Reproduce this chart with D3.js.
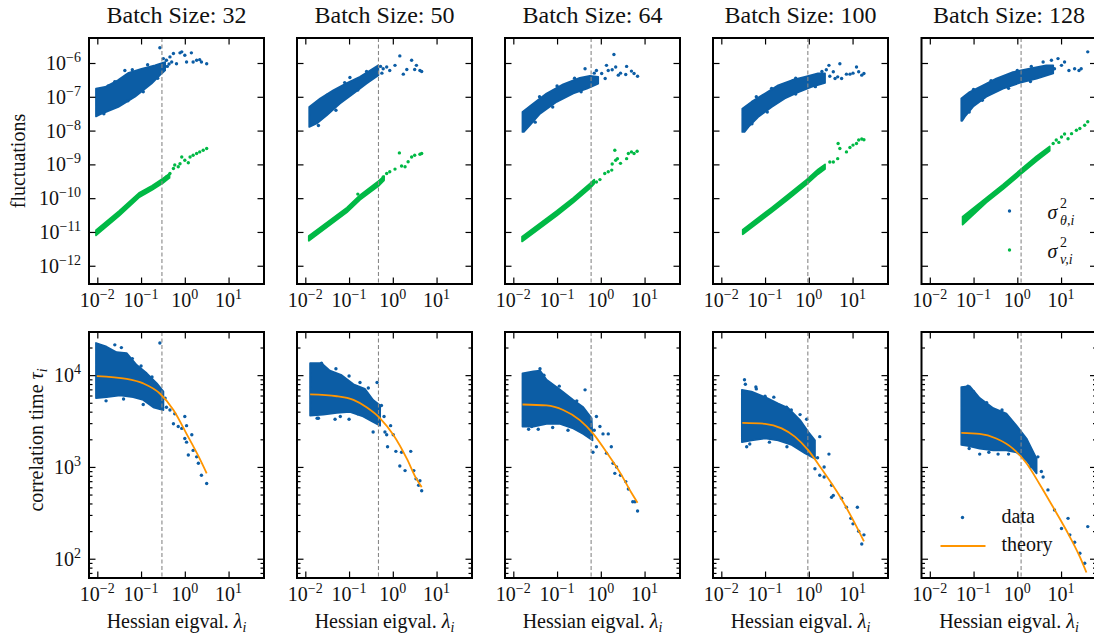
<!DOCTYPE html>
<html><head><meta charset="utf-8">
<script src="https://cdn.jsdelivr.net/npm/d3@7"></script>
<style>body{margin:0;background:#fff}svg{display:block}</style>
</head><body>
<svg id="chart" width="1094" height="642"></svg>
<script>
// ---------------- data (log10 values) ----------------
const batchSizes = [32, 50, 64, 100, 128];
const critLambda = [0.30, 0.47, 0.60, 0.95, 1.22];
const xTickExps = [-2, -1, 0, 1];
const topYTickExps = [-6, -7, -8, -9, -10, -11, -12];
const bottomYTickExps = [2, 3, 4];
const legendTop = ["θ,i", "v,i"];
const legendBottom = ["data", "theory"];

// dense part of the sigma_theta cloud: outline [log10 lambda, log10 sigma^2]
const thetaCloudLog = [
  [[-2.03,-6.76],[-1.82,-6.71],[-1.53,-6.51],[-1.30,-6.30],[-0.99,-6.17],[-0.68,-6.07],[-0.45,-5.97],[-0.45,-6.22],[-0.53,-6.31],[-0.76,-6.61],[-1.14,-7.00],[-1.52,-7.30],[-1.94,-7.52],[-2.03,-7.58]],
  [[-1.91,-7.30],[-1.66,-7.05],[-1.36,-6.81],[-1.05,-6.59],[-0.75,-6.41],[-0.52,-6.22],[-0.33,-6.07],[-0.33,-6.36],[-0.60,-6.61],[-0.90,-6.90],[-1.21,-7.20],[-1.51,-7.55],[-1.74,-7.79],[-1.91,-7.89]],
  [[-1.79,-7.45],[-1.54,-7.20],[-1.24,-6.90],[-0.86,-6.63],[-0.48,-6.44],[-0.25,-6.38],[-0.06,-6.41],[-0.06,-6.61],[-0.32,-6.76],[-0.63,-6.90],[-1.01,-7.15],[-1.39,-7.50],[-1.62,-7.84],[-1.76,-8.04],[-1.79,-8.04]],
  [[-1.52,-7.35],[-1.31,-7.15],[-1.00,-6.90],[-0.70,-6.66],[-0.39,-6.51],[-0.09,-6.41],[0.21,-6.31],[0.37,-6.31],[0.37,-6.59],[0.06,-6.71],[-0.24,-6.86],[-0.55,-7.05],[-0.85,-7.30],[-1.16,-7.60],[-1.38,-7.89],[-1.47,-8.04],[-1.52,-8.04]],
  [[-1.28,-7.05],[-1.09,-6.86],[-0.78,-6.66],[-0.48,-6.46],[-0.10,-6.27],[0.28,-6.17],[0.66,-6.07],[0.82,-6.07],[0.82,-6.31],[0.44,-6.46],[0.05,-6.59],[-0.33,-6.76],[-0.71,-7.00],[-1.01,-7.29],[-1.20,-7.59],[-1.26,-7.71],[-1.28,-7.71]]
];
// sparse sigma_theta points (outliers and edge points)
const thetaPointsLog = [
  [[-0.57,-5.55],[-0.49,-5.87],[-0.42,-5.92],[-0.34,-5.82],[-0.30,-5.97],[-0.26,-5.72],[-0.19,-6.02],[-0.11,-5.70],[-0.07,-5.67],[0.00,-5.77],[0.04,-5.97],[0.15,-5.70],[0.19,-5.97],[0.27,-5.92],[0.34,-5.90],[0.38,-5.97],[0.50,-6.02],[-1.37,-6.22],[-0.40,-6.10],[-0.36,-6.03],
   [-1.60,-6.55],[-1.20,-6.20],[-0.85,-6.05],[-1.75,-6.68],[-1.85,-7.50],[-1.30,-7.12],[-0.95,-6.85],[-0.62,-6.45]],
  [[-0.98,-6.43],[-0.22,-6.17],[-0.14,-6.12],[-0.07,-6.22],[0.05,-6.07],[0.16,-5.79],[0.24,-6.33],[0.32,-6.19],[0.43,-5.92],[0.50,-6.19],[0.54,-6.07],[0.62,-6.22],[0.66,-6.25],[-0.28,-6.10],[-0.25,-6.30],
   [-1.50,-6.95],[-1.10,-6.58],[-0.60,-6.25],[-1.70,-7.85],[-1.30,-7.40],[-0.80,-6.80]],
  [[-0.36,-6.17],[-0.10,-6.22],[0.02,-6.31],[0.13,-6.07],[0.17,-6.22],[0.10,-6.46],[0.30,-5.75],[0.26,-6.20],[0.34,-6.12],[0.40,-6.36],[0.45,-6.30],[0.59,-6.10],[0.57,-6.34],[0.70,-6.24],[0.76,-6.31],[0.84,-6.39],[-0.15,-6.30],
   [-1.40,-7.00],[-1.00,-6.68],[-0.60,-6.45],[-1.50,-7.75],[-1.10,-7.30],[-0.45,-6.85]],
  [[0.46,-6.07],[0.48,-6.39],[0.56,-6.26],[0.60,-6.46],[0.66,-6.41],[0.71,-6.02],[0.75,-6.46],[0.86,-6.33],[0.94,-6.33],[1.01,-6.30],[1.09,-6.12],[1.14,-6.26],[1.21,-6.36],[1.26,-6.31],[0.40,-6.20],[0.30,-6.25],
   [-1.20,-7.00],[-0.85,-6.75],[-0.30,-6.45],[-1.30,-7.80],[-0.95,-7.45],[-0.30,-6.92],[0.15,-6.70]],
  [[0.85,-6.17],[0.93,-5.87],[1.01,-6.07],[1.08,-5.97],[1.18,-6.22],[1.31,-6.17],[1.41,-6.22],[1.46,-6.17],[1.61,-5.67],[0.32,-6.10],[0.59,-5.97],[0.78,-5.92],
   [-1.00,-6.78],[-0.60,-6.52],[0.00,-6.22],[-1.10,-7.45],[-0.80,-7.10],[-0.20,-6.75],[0.30,-6.55]]
];
// dense part of the sigma_v band: outline
const vCloudLog = [
  [[-2.03,-10.95],[-1.50,-10.38],[-1.05,-9.85],[-0.75,-9.63],[-0.50,-9.42],[-0.35,-9.28],[-0.35,-9.40],[-0.50,-9.55],[-0.75,-9.76],[-1.05,-9.98],[-1.50,-10.52],[-2.03,-11.10]],
  [[-1.92,-11.12],[-1.05,-10.28],[-0.75,-9.91],[-0.33,-9.50],[-0.20,-9.35],[-0.20,-9.47],[-0.33,-9.64],[-0.75,-10.05],[-1.05,-10.42],[-1.92,-11.26]],
  [[-1.80,-11.14],[-1.01,-10.38],[-0.63,-9.99],[-0.25,-9.57],[-0.15,-9.45],[-0.15,-9.57],[-0.25,-9.71],[-0.63,-10.13],[-1.01,-10.52],[-1.80,-11.28]],
  [[-1.51,-10.93],[-0.85,-10.28],[-0.47,-9.89],[-0.05,-9.45],[0.21,-9.15],[0.37,-9.00],[0.37,-9.14],[0.21,-9.29],[-0.05,-9.59],[-0.47,-10.03],[-0.85,-10.42],[-1.51,-11.07]],
  [[-1.25,-10.55],[-0.71,-9.99],[-0.33,-9.60],[0.08,-9.15],[0.44,-8.76],[0.74,-8.47],[0.74,-8.60],[0.44,-8.90],[0.08,-9.29],[-0.33,-9.74],[-0.71,-10.13],[-1.25,-10.78]]
];
const vPointsLog = [
  [[-0.42,-9.37],[-0.34,-9.27],[-0.26,-9.12],[-0.23,-9.02],[-0.15,-9.07],[-0.11,-8.98],[-0.07,-8.78],[0.00,-8.88],[0.08,-8.95],[0.12,-8.78],[0.19,-8.73],[0.27,-8.68],[0.34,-8.63],[0.42,-8.58],[0.50,-8.53]],
  [[-0.22,-9.37],[-0.14,-9.27],[-0.07,-9.22],[0.05,-9.14],[0.15,-8.66],[0.20,-9.05],[0.28,-9.07],[0.43,-8.78],[0.50,-8.73],[0.62,-8.70],[0.66,-8.68],[-0.80,-9.88],[0.35,-8.92]],
  [[-0.10,-9.52],[-0.02,-9.45],[0.09,-9.27],[0.17,-9.22],[0.25,-9.17],[0.26,-8.99],[0.34,-8.88],[0.32,-8.58],[0.38,-8.83],[0.45,-8.97],[0.59,-8.83],[0.63,-8.68],[0.70,-8.63],[0.76,-8.68],[0.83,-8.61]],
  [[0.48,-8.93],[0.56,-8.93],[0.66,-8.83],[0.71,-8.53],[0.67,-8.38],[0.86,-8.63],[0.94,-8.50],[1.01,-8.43],[1.09,-8.38],[1.14,-8.28],[1.21,-8.25],[1.26,-8.27]],
  [[0.82,-8.38],[0.89,-8.28],[1.01,-8.19],[1.16,-8.24],[1.24,-8.09],[1.35,-7.99],[1.43,-7.94],[1.54,-7.84],[1.61,-7.74],[0.95,-8.35],[1.08,-8.10]]
];
// dense part of the correlation-time cloud: outline [log10 lambda, log10 tau]
const tauCloudLog = [
  [[-2.03,4.35],[-1.79,4.31],[-1.56,4.25],[-1.33,4.24],[-1.10,4.11],[-0.87,4.02],[-0.64,3.91],[-0.49,3.82],[-0.49,3.62],[-0.72,3.65],[-0.95,3.73],[-1.18,3.76],[-1.48,3.78],[-1.79,3.76],[-2.03,3.75]],
  [[-1.89,4.13],[-1.63,4.13],[-1.44,4.05],[-1.17,4.00],[-0.90,3.90],[-0.64,3.85],[-0.45,3.73],[-0.29,3.67],[-0.29,3.45],[-0.45,3.49],[-0.68,3.55],[-0.98,3.60],[-1.28,3.59],[-1.59,3.57],[-1.89,3.56]],
  [[-1.79,4.02],[-1.54,4.04],[-1.39,4.05],[-1.24,3.95],[-0.93,3.84],[-0.63,3.73],[-0.40,3.65],[-0.21,3.53],[-0.19,3.29],[-0.40,3.36],[-0.63,3.42],[-0.93,3.47],[-1.24,3.47],[-1.54,3.44],[-1.79,3.44]],
  [[-1.53,3.84],[-1.31,3.82],[-1.00,3.76],[-0.70,3.69],[-0.47,3.64],[-0.20,3.51],[-0.01,3.38],[0.14,3.29],[0.14,3.09],[-0.09,3.15],[-0.39,3.24],[-0.70,3.29],[-1.00,3.31],[-1.31,3.29],[-1.53,3.27]],
  [[-1.28,3.87],[-1.09,3.88],[-0.86,3.75],[-0.55,3.64],[-0.25,3.58],[-0.02,3.45],[0.21,3.31],[0.44,3.09],[0.44,2.93],[0.21,3.07],[-0.02,3.16],[-0.25,3.18],[-0.55,3.18],[-0.86,3.20],[-1.13,3.23],[-1.28,3.24]]
];
const tauPointsLog = [
  [[-0.57,4.35],[-0.42,3.65],[-0.34,3.62],[-0.26,3.47],[-0.23,3.58],[-0.15,3.44],[0.00,3.55],[-0.07,3.42],[0.04,3.45],[0.00,3.31],[0.04,3.27],[0.16,3.35],[0.08,3.13],[0.19,3.18],[0.27,3.11],[0.31,3.04],[0.38,2.91],[0.50,2.82],[-0.45,3.75],[-1.60,4.33],[-1.20,4.18],
   [-1.80,3.72],[-1.40,3.74],[-0.95,3.68],[-1.45,4.30],[-1.00,4.10],[-0.75,3.98]],
  [[-1.63,4.13],[-1.73,3.53],[-1.32,3.52],[-1.00,3.52],[-0.56,3.86],[-0.36,3.92],[-0.45,3.38],[-0.26,3.67],[-0.18,3.38],[-0.14,3.35],[0.01,3.35],[-0.12,3.22],[0.07,3.17],[0.20,3.16],[0.41,3.17],[0.16,3.01],[0.28,2.96],[0.48,2.96],[0.53,2.87],[0.62,2.85],[0.59,2.80],[0.66,2.74],[-0.20,3.55],[-0.05,3.45],
   [-1.70,3.53],[-1.20,3.55],[-0.80,3.58],[-1.30,4.07],[-1.00,3.99],[-0.75,3.92]],
  [[-1.39,4.07],[-1.58,3.44],[-1.43,3.41],[-0.36,3.84],[-0.10,3.55],[-0.02,3.44],[0.05,3.36],[0.17,3.36],[-0.10,3.22],[-0.18,3.16],[0.13,3.15],[0.24,3.22],[0.28,3.04],[0.36,3.00],[0.32,2.93],[0.45,2.91],[0.57,2.84],[0.63,2.76],[0.73,2.62],[0.78,2.62],[0.84,2.52],[-0.15,3.40],
   [-1.65,3.41],[-1.10,3.43],[-0.75,3.40],[-1.30,4.00],[-0.95,3.88],[-0.55,3.72]],
  [[-1.47,3.95],[-1.45,3.90],[-1.21,3.87],[-1.00,3.77],[-1.42,3.22],[-0.51,3.65],[-0.20,3.57],[-0.05,3.52],[0.25,3.33],[0.46,3.14],[0.14,2.98],[0.25,2.91],[0.35,2.89],[0.52,2.80],[0.56,2.69],[0.52,2.67],[0.75,2.66],[0.86,2.56],[0.96,2.44],[1.01,2.38],[1.11,2.56],[1.14,2.30],[1.26,2.26],[1.21,2.16],[0.20,3.10],[0.35,3.00],
   [-1.35,3.25],[-0.90,3.27],[-0.50,3.22],[-1.20,3.85],[-0.80,3.76],[-0.40,3.62]],
  [[-1.13,3.88],[-0.86,3.14],[-0.44,3.14],[0.47,3.11],[0.59,2.89],[0.70,2.75],[0.85,2.53],[1.01,2.33],[1.16,2.44],[1.20,2.26],[1.31,2.18],[1.43,2.06],[1.61,2.35],[1.54,1.95],[0.30,3.00],[0.55,2.95],
   [-1.10,3.20],[-0.65,3.16],[-0.20,3.14],[-1.00,3.82],[-0.70,3.70],[-0.35,3.62]]
];
// theory curves
const theoryLog = [
  [[-2.01,3.99],[-1.33,3.96],[-0.95,3.91],[-0.57,3.80],[-0.26,3.62],[0.04,3.36],[0.34,3.09],[0.50,2.93]],
  [[-1.89,3.79],[-1.28,3.77],[-0.90,3.73],[-0.60,3.65],[-0.29,3.53],[0.01,3.35],[0.32,3.09],[0.54,2.87],[0.66,2.78]],
  [[-1.79,3.68],[-1.24,3.67],[-0.86,3.62],[-0.48,3.51],[-0.17,3.36],[0.13,3.16],[0.45,2.93],[0.71,2.71],[0.84,2.61]],
  [[-1.52,3.48],[-1.00,3.47],[-0.62,3.42],[-0.32,3.33],[-0.01,3.18],[0.29,2.98],[0.67,2.71],[0.98,2.45],[1.26,2.19]],
  [[-1.28,3.37],[-0.86,3.36],[-0.48,3.31],[-0.10,3.20],[0.21,3.04],[0.50,2.82],[0.82,2.56],[1.12,2.31],[1.43,2.02],[1.58,1.85]]
];

// ---------------- style / layout ----------------
const BLUE = "#0C5DA5", GREEN = "#00B945", ORANGE = "#FF9500";
const FONT = "'Liberation Serif','DejaVu Serif',serif";
const panelLeft = [89, 297, 505, 713, 921.5];
const PW = 175, PH = 246;
const rowTop = [38, 332];

const svg = d3.select("#chart").style("font-family", FONT);

const x = d3.scaleLog().domain([10 ** -2.19, 10 ** 1.81]).range([0, PW]);
const yTop = d3.scaleLog().domain([10 ** -12.54, 10 ** -5.26]).range([PH, 0]);
const yBot = d3.scaleLog().domain([10 ** 1.79, 10 ** 4.47]).range([PH, 0]);

const minorBot = [];
for (let k = 1; k <= 4; k++) for (let m = 2; m <= 9; m++) {
  const v = m * 10 ** k;
  if (v > yBot.domain()[0] && v < yBot.domain()[1]) minorBot.push(v);
}

function powLabel(sel, exp, size, supSize, raise) {
  sel.append("tspan").text("10").attr("font-size", size);
  sel.append("tspan").text(exp < 0 ? "\u2212" + (-exp) : String(exp))
    .attr("font-size", supSize).attr("dy", -raise);
}

function drawPanel(col, row) {
  const y = row === 0 ? yTop : yBot;
  const g = svg.append("g").attr("transform", `translate(${panelLeft[col]},${rowTop[row]})`);
  const cid = `clip${row}${col}`;
  g.append("clipPath").attr("id", cid).append("rect").attr("width", PW).attr("height", PH);
  const body = g.append("g").attr("clip-path", `url(#${cid})`);
  const pt = d => [x(10 ** d[0]), y(10 ** d[1])];
  const poly = arr => "M" + arr.map(pt).map(p => p.join(",")).join("L") + "Z";

  function cloud(outline, points, color) {
    body.append("path").attr("d", poly(outline)).attr("fill", color)
      .attr("stroke", color).attr("stroke-width", 1.8).attr("stroke-linejoin", "round");
    body.selectAll(null).data(points).enter().append("circle")
      .attr("cx", d => pt(d)[0]).attr("cy", d => pt(d)[1]).attr("r", 1.7).attr("fill", color);
  }

  if (row === 0) {
    cloud(thetaCloudLog[col], thetaPointsLog[col], BLUE);
    cloud(vCloudLog[col], vPointsLog[col], GREEN);
  } else {
    cloud(tauCloudLog[col], tauPointsLog[col], BLUE);
  }
  body.append("line").attr("x1", x(critLambda[col])).attr("x2", x(critLambda[col]))
    .attr("y1", 0).attr("y2", PH).attr("stroke", "#888").attr("stroke-width", 1.1)
    .attr("stroke-dasharray", "4,2.5");
  if (row === 1) {
    body.append("path").datum(theoryLog[col])
      .attr("d", d3.line().x(d => pt(d)[0]).y(d => pt(d)[1]).curve(d3.curveMonotoneX))
      .attr("fill", "none").attr("stroke", ORANGE).attr("stroke-width", 1.8);
  }

  const xt = xTickExps.map(e => 10 ** e);
  const yt = (row === 0 ? topYTickExps : bottomYTickExps).map(e => 10 ** e);
  const styleAx = a => { a.select(".domain").remove(); a.selectAll("line").attr("stroke", "#000").attr("stroke-width", 1.2); a.selectAll("text").remove(); };
  g.append("g").attr("transform", `translate(0,${PH})`).call(d3.axisBottom(x).tickValues(xt).tickSizeInner(-6.5).tickSizeOuter(0)).call(styleAx);
  g.append("g").call(d3.axisTop(x).tickValues(xt).tickSizeInner(-6.5).tickSizeOuter(0)).call(styleAx);
  g.append("g").call(d3.axisLeft(y).tickValues(yt).tickSizeInner(-6.5).tickSizeOuter(0)).call(styleAx);
  g.append("g").attr("transform", `translate(${PW},0)`).call(d3.axisRight(y).tickValues(yt).tickSizeInner(-6.5).tickSizeOuter(0)).call(styleAx);
  if (row === 1) {
    g.append("g").call(d3.axisLeft(y).tickValues(minorBot).tickSizeInner(-3.5).tickSizeOuter(0)).call(styleAx);
    g.append("g").attr("transform", `translate(${PW},0)`).call(d3.axisRight(y).tickValues(minorBot).tickSizeInner(-3.5).tickSizeOuter(0)).call(styleAx);
  }
  g.append("rect").attr("width", PW).attr("height", PH).attr("fill", "none")
    .attr("stroke", "#000").attr("stroke-width", 2);

  xTickExps.forEach(e => {
    const t = g.append("text").attr("x", x(10 ** e)).attr("y", PH + 22.5)
      .attr("text-anchor", "middle").attr("fill", "#111");
    powLabel(t, e, 20, 14, 8);
  });
  if (col === 0) {
    (row === 0 ? topYTickExps : bottomYTickExps).forEach(e => {
      const t = g.append("text").attr("x", -8).attr("y", y(10 ** e) + 7)
        .attr("text-anchor", "end").attr("fill", "#111");
      powLabel(t, e, 20, 14, 8);
    });
  }
  if (row === 0) {
    g.append("text").attr("x", PW / 2).attr("y", -15).attr("text-anchor", "middle")
      .attr("font-size", 24).attr("fill", "#111").text(`Batch Size: ${batchSizes[col]}`);
  } else {
    const t = g.append("text").attr("x", PW / 2).attr("y", PH + 50).attr("text-anchor", "middle")
      .attr("font-size", 20).attr("fill", "#111");
    t.append("tspan").text("Hessian eigval. ");
    t.append("tspan").text("λ").attr("font-style", "italic");
    t.append("tspan").text("i").attr("font-style", "italic").attr("font-size", 14).attr("dy", 4);
  }
}

for (let r = 0; r < 2; r++) for (let c = 0; c < 5; c++) drawPanel(c, r);

svg.append("text").attr("transform", "translate(25,161) rotate(-90)").attr("text-anchor", "middle")
  .attr("font-size", 20).attr("fill", "#111").text("fluctuations");
const yl = svg.append("text").attr("transform", "translate(43,440) rotate(-90)").attr("text-anchor", "middle")
  .attr("font-size", 20).attr("fill", "#111");
yl.append("tspan").text("correlation time ");
yl.append("tspan").text("τ").attr("font-style", "italic");
yl.append("tspan").text("i").attr("font-style", "italic").attr("font-size", 14).attr("dy", 4);

const lx = panelLeft[4];
const legT = svg.append("g").attr("transform", `translate(${lx},${rowTop[0]})`);
[[BLUE, 173, legendTop[0]], [GREEN, 212, legendTop[1]]].forEach(([c, yy, sub]) => {
  legT.append("circle").attr("cx", 88).attr("cy", yy).attr("r", 1.7).attr("fill", c);
  legT.append("text").attr("x", 126).attr("y", yy + 8).attr("font-size", 20)
    .attr("font-style", "italic").attr("fill", "#111").text("σ");
  legT.append("text").attr("x", 138.5).attr("y", yy - 3.5).attr("font-size", 14)
    .attr("fill", "#111").text("2");
  legT.append("text").attr("x", 138.5).attr("y", yy + 13.5).attr("font-size", 14)
    .attr("font-style", "italic").attr("fill", "#111").text(sub);
});
const legB = svg.append("g").attr("transform", `translate(${lx},${rowTop[1]})`);
legB.append("circle").attr("cx", 41).attr("cy", 185.5).attr("r", 1.7).attr("fill", BLUE);
legB.append("text").attr("x", 80).attr("y", 191).attr("font-size", 20).attr("fill", "#111").text(legendBottom[0]);
legB.append("line").attr("x1", 19).attr("x2", 64).attr("y1", 214).attr("y2", 214)
  .attr("stroke", ORANGE).attr("stroke-width", 1.8);
legB.append("text").attr("x", 80).attr("y", 219).attr("font-size", 20).attr("fill", "#111").text(legendBottom[1]);
</script>
</body></html>
